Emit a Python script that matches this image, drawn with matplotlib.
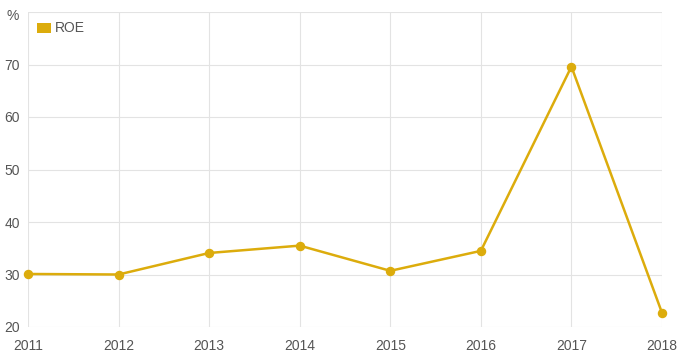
import matplotlib
matplotlib.use("Agg")
import matplotlib.pyplot as plt
from matplotlib.patches import Rectangle

years = ["2011", "2012", "2013", "2014", "2015", "2016", "2017", "2018"]
roe = [30.1, 30.0, 34.1, 35.5, 30.7, 34.5, 69.6, 22.7]
yticks = [20, 30, 40, 50, 60, 70]
series_name = "ROE"
unit = "%"

plt.rcParams["font.family"] = ["Liberation Sans", "DejaVu Sans"]

W, H = 681, 356
color = "#dcac0c"
fig = plt.figure(figsize=(W / 100, H / 100), dpi=100)
ax = fig.add_axes([28 / W, 1 - 327 / H, (662 - 28) / W, (327 - 12) / H])

x = list(range(len(years)))
ax.plot(x, roe, color=color, lw=1.8, marker="o", ms=5.8, zorder=3, clip_on=False)
ax.set_xlim(0, len(years) - 1)
ax.set_ylim(20, 80)
ax.set_yticks(yticks + [80])
ax.set_yticklabels([str(v) for v in yticks] + [""])
ax.set_xticks(x)
ax.set_xticklabels(years)
ax.grid(True, color="#e3e3e3", lw=0.8)
ax.set_axisbelow(True)
for s in ax.spines.values():
    s.set_visible(False)
ax.tick_params(length=0, labelsize=10, colors="#555555")
ax.tick_params(axis="y", pad=6)
ax.tick_params(axis="x", pad=9)

fig.text(13 / W, 1 - 16 / H, unit, fontsize=10, color="#555555", ha="center", va="center")
fig.patches.append(Rectangle((37 / W, 1 - 33 / H), 14 / W, 10 / H, transform=fig.transFigure,
                             facecolor=color, edgecolor="none"))
fig.text(55 / W, 1 - 28 / H, series_name, fontsize=10, color="#555555", ha="left", va="center")

fig.savefig("out.png", dpi=100)
